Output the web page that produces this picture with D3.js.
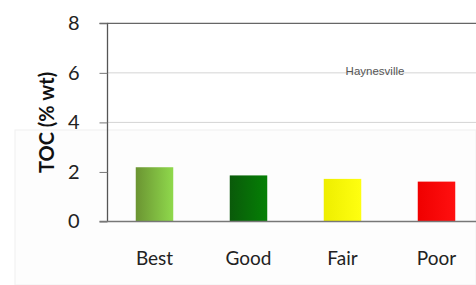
<!DOCTYPE html>
<html>
<head>
<meta charset="utf-8">
<script src="https://cdn.jsdelivr.net/npm/d3@7"></script>
<style>
  body { margin: 0; background: #fff; }
  svg { display: block; }
</style>
</head>
<body>
<svg id="chart" width="476" height="285"></svg>
<script>
const categories = ["Best", "Good", "Fair", "Poor"];
const tocValues = [2.19, 1.86, 1.72, 1.61];
const yTicks = [0, 2, 4, 6, 8];
const annotation = "Haynesville";
const yTitle = "TOC (% wt)";

const svg = d3.select("#chart");
const W = 476, H = 285;
const mLeft = 107.5, mTop = 23.3, mBottom = 221.5;
const step = 94;

// faint pasted-panel background
svg.append("rect").attr("x", 15).attr("y", 130).attr("width", W - 15).attr("height", H - 130)
  .attr("fill", "#fdfdfd").attr("stroke", "#f0f0f0");

const x = d3.scaleBand().domain(categories)
  .range([mLeft, mLeft + step * categories.length]).paddingInner(0.6).paddingOuter(0.3);
const y = d3.scaleLinear().domain([0, 8]).range([mBottom, mTop]);

// gridlines
svg.append("g").selectAll("line").data([4, 6]).join("line")
  .attr("x1", mLeft).attr("x2", W).attr("y1", d => y(d)).attr("y2", d => y(d))
  .attr("stroke", "#d4d4d4").attr("stroke-width", 1);
// top line
svg.append("line").attr("x1", mLeft).attr("x2", W).attr("y1", y(8)).attr("y2", y(8))
  .attr("stroke", "#666").attr("stroke-width", 1.3);

// gradients
const defs = svg.append("defs");
const grads = [
  ["gBest", "#6b9432", "#8fd94c"],
  ["gGood", "#0a5a0a", "#058005"],
  ["gFair", "#eeee00", "#ffff10"],
  ["gPoor", "#f00000", "#ff1010"]
];
grads.forEach(([id, c0, c1]) => {
  const g = defs.append("linearGradient").attr("id", id).attr("x1", "0").attr("x2", "1").attr("y1", "0").attr("y2", "0");
  g.append("stop").attr("offset", "0").attr("stop-color", c0);
  g.append("stop").attr("offset", "1").attr("stop-color", c1);
});

// bars
svg.append("g").selectAll("rect").data(categories).join("rect")
  .attr("x", d => x(d) + (x.bandwidth() - 37.5) / 2)
  .attr("width", 37.5)
  .attr("y", (d, i) => y(tocValues[i]))
  .attr("height", (d, i) => y(0) - y(tocValues[i]))
  .attr("fill", (d, i) => `url(#${grads[i][0]})`);

// y axis
const yAxis = d3.axisLeft(y).tickValues(yTicks).tickSize(8).tickPadding(20).tickFormat(d3.format("d"));
const gy = svg.append("g").attr("transform", `translate(${mLeft},0)`).call(yAxis);
gy.select(".domain").attr("stroke", "#555").attr("stroke-width", 1.3).attr("d", `M-8,${y(8)}H0V${y(0)}`);
gy.selectAll(".tick line").attr("stroke", "#777");
gy.selectAll(".tick text").attr("font-family", "Lato, 'Open Sans', sans-serif").attr("font-size", 20).attr("fill", "#222");

// x baseline
svg.append("line").attr("x1", mLeft - 8).attr("x2", W).attr("y1", y(0)).attr("y2", y(0))
  .attr("stroke", "#777").attr("stroke-width", 1.3);

// x labels
const xAxis = d3.axisBottom(x).tickSize(0).tickPadding(30);
const gx = svg.append("g").attr("transform", `translate(0,${y(0)})`).call(xAxis);
gx.select(".domain").remove();
gx.selectAll(".tick text").attr("font-family", "Lato, 'Open Sans', sans-serif").attr("font-size", 19).attr("fill", "#222");

// y title
svg.append("text")
  .attr("transform", `translate(54,${(mTop + mBottom) / 2}) rotate(-90)`)
  .attr("text-anchor", "middle")
  .attr("font-family", "Lato, 'Open Sans', sans-serif").attr("font-weight", "bold").attr("font-size", 20)
  .attr("fill", "#111").text(yTitle);

// annotation
svg.append("text").attr("x", 375).attr("y", 74.5).attr("text-anchor", "middle")
  .attr("font-family", "'Liberation Sans', Arial, sans-serif").attr("font-size", 11.5)
  .attr("fill", "#555").text(annotation);
</script>
</body>
</html>
